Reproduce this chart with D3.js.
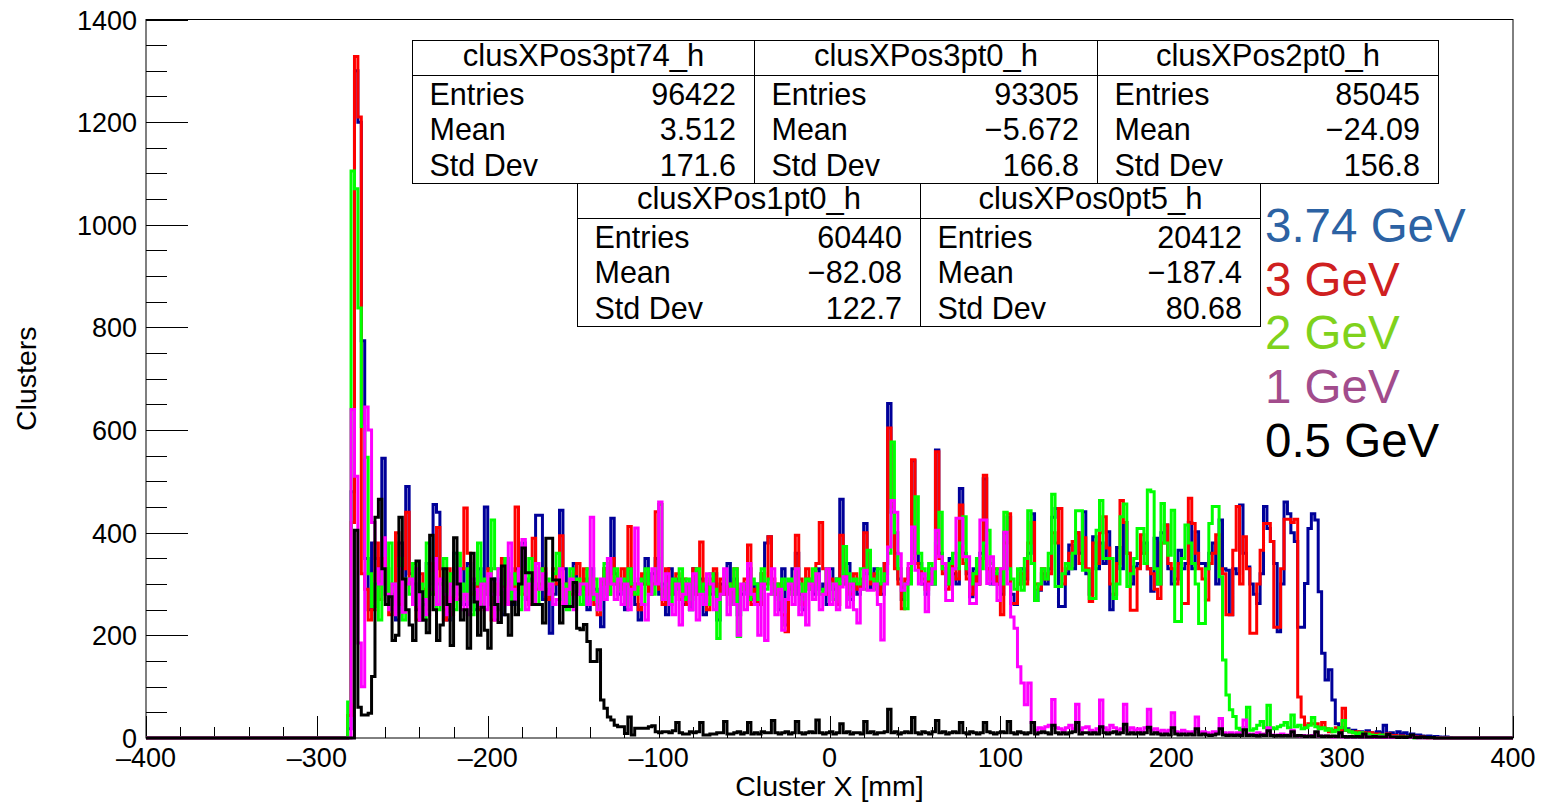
<!DOCTYPE html>
<html>
<head>
<meta charset="utf-8">
<script src="https://cdn.jsdelivr.net/npm/d3@7"></script>
<style>
  html, body { margin: 0; padding: 0; background: #fff; }
  svg { display: block; }
  text { font-family: "Liberation Sans", Arial, Helvetica, sans-serif; }
</style>
</head>
<body>
<svg id="chart" width="1544" height="802"></svg>
<script>
// Cluster X position histograms, 2 mm bins; first stored bin starts at -284 mm.
const binStart = -284;
const binWidth = 2;

// 3.74 GeV
const counts374 = [
  0, 18, 480, 1300, 1200, 774, 350, 250, 380, 350,
  300, 545, 330, 260, 280, 230, 380, 300, 490, 320,
  300, 250, 230, 260, 340, 300, 455, 440, 330, 250,
  230, 300, 360, 280, 330, 260, 340, 300, 250, 330,
  300, 450, 330, 260, 310, 280, 240, 350, 300, 260,
  330, 300, 380, 270, 310, 300, 434, 434, 270, 290,
  204, 280, 300, 444, 330, 260, 300, 340, 280, 300,
  310, 250, 330, 290, 260, 217, 330, 300, 428, 320,
  280, 300, 250, 330, 300, 260, 230, 300, 350, 280,
  320, 350, 280, 300, 240, 330, 280, 310, 300, 260,
  300, 250, 330, 280, 310, 240, 300, 280, 320, 230,
  300, 280, 340, 260, 310, 240, 280, 300, 330, 270,
  300, 260, 320, 380, 392, 300, 280, 250, 330, 220,
  290, 330, 360, 280, 250, 310, 300, 280, 330, 290,
  300, 260, 330, 290, 310, 465, 300, 340, 270, 300,
  280, 300, 418, 320, 290, 330, 300, 280, 340, 652,
  440, 360, 310, 270, 300, 330, 540, 360, 340, 300,
  280, 330, 300, 561, 360, 330, 300, 350, 320, 300,
  486, 360, 320, 275, 330, 300, 360, 505, 330, 300,
  320, 300, 280, 400, 430, 280, 260, 300, 330, 310,
  360, 437, 268, 288, 320, 300, 330, 430, 447, 256,
  256, 320, 376, 330, 400, 360, 441, 320, 280, 392,
  330, 380, 340, 402, 250, 280, 371, 330, 420, 360,
  300, 333, 340, 360, 380, 330, 286, 389, 300, 400,
  415, 330, 300, 310, 366, 330, 340, 420, 330, 402,
  340, 340, 330, 360, 380, 300, 425, 330, 327, 240,
  330, 320, 454, 360, 333, 300, 280, 262, 320, 451,
  408, 383, 340, 207, 300, 460, 437, 400, 383, 216,
  216, 301, 408, 437, 425, 285, 165, 113, 133, 74,
  28, 20, 15, 18, 12, 15, 10, 12, 10, 14,
  10, 8, 12, 10, 25, 8, 10, 6, 12, 8,
  10, 6, 8, 5, 6, 4, 3, 4, 2, 3,
  2, 1, 2, 1, 0, 0, 0, 0
];

// 3 GeV
const counts300 = [
  0, 44, 420, 1328, 1210, 320, 290, 230, 250, 380,
  270, 350, 330, 240, 300, 400, 260, 330, 440, 300,
  260, 230, 320, 290, 250, 340, 280, 410, 300, 230,
  330, 240, 300, 270, 330, 448, 360, 280, 300, 250,
  300, 280, 330, 230, 300, 280, 350, 260, 310, 290,
  450, 330, 280, 300, 260, 389, 290, 300, 330, 270,
  280, 330, 300, 394, 260, 300, 280, 320, 340, 290,
  330, 280, 310, 260, 240, 300, 330, 280, 350, 300,
  290, 330, 300, 412, 280, 300, 250, 320, 300, 280,
  300, 441, 290, 260, 330, 280, 300, 320, 270, 310,
  260, 300, 330, 280, 382, 290, 250, 310, 330, 280,
  310, 280, 300, 260, 330, 280, 290, 310, 376, 260,
  290, 260, 320, 300, 392, 310, 280, 300, 240, 207,
  300, 280, 395, 310, 260, 330, 290, 300, 340, 420,
  330, 280, 310, 300, 260, 395, 330, 300, 280, 320,
  290, 310, 400, 330, 300, 320, 280, 300, 340, 604,
  450, 330, 300, 252, 310, 330, 542, 340, 330, 310,
  290, 320, 310, 558, 350, 320, 290, 340, 330, 310,
  454, 340, 310, 280, 320, 300, 350, 512, 330, 310,
  330, 300, 240, 380, 437, 262, 262, 300, 320, 300,
  380, 420, 300, 290, 330, 310, 320, 400, 380, 447,
  300, 330, 360, 383, 400, 340, 390, 330, 266, 380,
  340, 400, 431, 370, 300, 280, 340, 463, 420, 360,
  249, 249, 330, 396, 360, 330, 320, 290, 272, 380,
  415, 340, 330, 300, 340, 262, 262, 467, 418, 360,
  330, 310, 269, 340, 360, 396, 330, 320, 240, 240,
  366, 451, 300, 392, 330, 204, 204, 300, 366, 418,
  418, 383, 216, 216, 330, 426, 426, 420, 426, 80,
  41, 24, 28, 28, 28, 20, 30, 18, 12, 15,
  20, 15, 58, 15, 12, 10, 12, 8, 10, 8,
  10, 6, 8, 5, 6, 8, 4, 5, 3, 4,
  3, 2, 4, 2, 1, 2, 1, 0, 1, 0,
  0, 0, 0, 0, 0, 0, 0, 0
];

// 2 GeV
const counts200 = [
  0, 70, 1105, 1070, 838, 607, 547, 320, 256, 300,
  230, 330, 280, 380, 260, 300, 350, 230, 310, 280,
  340, 260, 300, 230, 380, 280, 320, 250, 300, 350,
  280, 320, 250, 360, 300, 270, 330, 240, 300, 380,
  260, 310, 280, 425, 330, 250, 300, 350, 270, 320,
  300, 250, 330, 280, 350, 300, 260, 330, 290, 310,
  280, 320, 360, 270, 300, 250, 330, 290, 310, 260,
  300, 330, 270, 310, 250, 300, 340, 280, 300, 330,
  290, 310, 260, 330, 300, 280, 310, 260, 330, 300,
  280, 330, 455, 270, 300, 260, 310, 290, 330, 270,
  310, 270, 300, 330, 280, 300, 260, 320, 290, 194,
  280, 310, 300, 260, 330, 198, 290, 300, 270, 310,
  300, 270, 330, 290, 310, 280, 300, 270, 310, 290,
  310, 280, 330, 300, 270, 310, 290, 330, 300, 280,
  290, 330, 300, 270, 310, 300, 373, 320, 290, 310,
  300, 330, 290, 366, 310, 290, 330, 300, 320, 360,
  577, 400, 330, 300, 252, 300, 350, 470, 360, 330,
  310, 340, 300, 380, 440, 330, 300, 340, 360, 330,
  380, 431, 330, 300, 320, 350, 330, 380, 405, 340,
  320, 330, 300, 440, 330, 310, 290, 330, 288, 350,
  443, 340, 268, 300, 330, 310, 360, 475, 295, 295,
  320, 340, 330, 360, 443, 443, 327, 327, 272, 272,
  405, 463, 350, 350, 350, 272, 300, 431, 456, 295,
  320, 350, 408, 408, 340, 483, 480, 330, 300, 457,
  380, 356, 444, 227, 227, 350, 415, 380, 340, 300,
  223, 223, 330, 418, 451, 451, 314, 152, 84, 55,
  42, 19, 15, 20, 60, 15, 18, 25, 32, 20,
  64, 20, 18, 22, 25, 30, 20, 45, 22, 25,
  18, 20, 25, 40, 22, 18, 20, 15, 18, 12,
  15, 20, 34, 15, 12, 10, 8, 10, 6, 8,
  6, 5, 4, 6, 3, 4, 2, 3, 2, 2,
  1, 2, 1, 0, 1, 0, 0, 0, 0, 0,
  0, 0, 0, 0, 0, 0, 0, 0
];

// 1 GeV
const counts100 = [
  0, 0, 640, 510, 185, 100, 645, 600, 420, 330,
  300, 390, 280, 250, 300, 240, 330, 245, 300, 310,
  260, 330, 230, 270, 240, 290, 350, 260, 310, 280,
  240, 300, 270, 330, 250, 280, 240, 310, 290, 260,
  300, 250, 320, 280, 230, 330, 290, 260, 380, 290,
  270, 330, 387, 250, 300, 260, 340, 290, 320, 280,
  300, 260, 270, 330, 260, 290, 310, 250, 280, 300,
  300, 260, 430, 280, 250, 310, 270, 350, 300, 270,
  310, 260, 300, 250, 290, 409, 300, 260, 230, 280,
  330, 300, 460, 270, 320, 260, 240, 300, 220, 280,
  300, 250, 320, 230, 280, 260, 320, 300, 250, 270,
  280, 330, 240, 290, 260, 200, 300, 250, 340, 280,
  260, 200, 300, 190, 280, 330, 240, 290, 210, 270,
  300, 260, 330, 240, 280, 220, 300, 270, 320, 250,
  280, 330, 260, 300, 250, 294, 314, 255, 300, 250,
  224, 290, 327, 288, 288, 300, 260, 191, 300, 372,
  463, 440, 359, 288, 300, 340, 411, 327, 300, 320,
  246, 300, 330, 405, 353, 340, 268, 268, 330, 428,
  428, 353, 353, 262, 262, 300, 425, 425, 301, 353,
  300, 268, 330, 401, 300, 236, 214, 139, 107, 65,
  107, 30, 15, 20, 18, 22, 25, 75, 20, 18,
  15, 20, 25, 18, 66, 15, 20, 22, 15, 12,
  18, 74, 20, 15, 25, 20, 15, 18, 66, 15,
  20, 15, 18, 12, 20, 56, 15, 18, 12, 15,
  12, 15, 49, 12, 10, 15, 12, 10, 12, 41,
  10, 12, 10, 8, 12, 10, 38, 10, 8, 10,
  8, 10, 8, 35, 8, 6, 8, 10, 6, 8,
  20, 6, 5, 6, 8, 5, 6, 15, 5, 4,
  5, 4, 3, 5, 10, 4, 3, 4, 3, 2,
  3, 8, 2, 3, 2, 2, 3, 2, 6, 2,
  2, 1, 2, 2, 1, 4, 1, 2, 1, 1,
  1, 1, 3, 1, 0, 1, 0, 1, 0, 0,
  0, 0, 0, 0, 0, 0, 0, 0
];

// 0.5 GeV
const counts050 = [
  0, 0, 0, 405, 60, 45, 45, 48, 120, 430,
  465, 330, 260, 275, 190, 200, 430, 310, 250, 220,
  190, 345, 285, 230, 205, 395, 250, 190, 220, 330,
  260, 180, 390, 300, 230, 250, 175, 360, 265, 200,
  255, 210, 175, 310, 260, 225, 335, 240, 200, 265,
  240, 300, 370, 322, 322, 260, 260, 260, 224, 389,
  389, 308, 308, 224, 256, 256, 256, 303, 214, 211,
  221, 188, 149, 149, 172, 74, 58, 41, 35, 25,
  22, 22, 9, 41, 6, 19, 19, 19, 19, 22,
  24, 12, 10, 12, 12, 10, 14, 30, 10, 8,
  8, 12, 10, 12, 30, 6, 6, 8, 8, 10,
  10, 32, 8, 8, 10, 12, 8, 10, 30, 8,
  10, 8, 12, 10, 10, 34, 10, 8, 10, 12,
  8, 10, 32, 10, 8, 10, 12, 10, 35, 10,
  8, 10, 12, 8, 10, 28, 10, 12, 8, 10,
  10, 8, 32, 10, 12, 8, 10, 10, 12, 56,
  10, 12, 8, 10, 12, 10, 40, 10, 8, 12,
  10, 8, 12, 34, 10, 12, 8, 10, 12, 10,
  30, 10, 8, 12, 10, 8, 10, 30, 12, 10,
  8, 10, 12, 10, 32, 10, 8, 12, 10, 8,
  10, 30, 8, 10, 12, 10, 8, 25, 10, 8,
  10, 8, 10, 12, 30, 8, 10, 10, 8, 10,
  8, 22, 10, 8, 10, 12, 8, 10, 27, 8,
  10, 8, 10, 8, 10, 21, 8, 10, 8, 6,
  8, 6, 20, 8, 6, 8, 6, 8, 6, 18,
  6, 8, 6, 5, 6, 8, 18, 6, 5, 6,
  5, 6, 5, 16, 5, 6, 5, 4, 6, 5,
  14, 5, 4, 5, 4, 5, 4, 12, 4, 5,
  4, 3, 4, 3, 12, 4, 3, 4, 3, 4,
  3, 10, 3, 2, 3, 2, 3, 2, 8, 2,
  2, 3, 2, 2, 2, 7, 2, 2, 1, 2,
  1, 2, 6, 1, 1, 2, 1, 1, 1, 0,
  0, 0, 0, 0, 0, 0, 0, 0
];

// Legend labels, drawn in this order top to bottom
const legendLabels = ["3.74 GeV", "3 GeV", "2 GeV", "1 GeV", "0.5 GeV"];

// Statistics boxes
const statNames = ["clusXPos3pt74_h", "clusXPos3pt0_h", "clusXPos2pt0_h", "clusXPos1pt0_h", "clusXPos0pt5_h"];
const statEntries = ["96422", "93305", "85045", "60440", "20412"];
const statMeans = ["3.512", "\u22125.672", "\u221224.09", "\u221282.08", "\u2212187.4"];
const statStdDevs = ["171.6", "166.8", "156.8", "122.7", "80.68"];

// Axes
const xTicks = [-400, -300, -200, -100, 0, 100, 200, 300, 400];
const yTicks = [0, 200, 400, 600, 800, 1000, 1200, 1400];
const xTitle = "Cluster X [mm]";
const yTitle = "Clusters";

// ---- styling / layout ----
const lineColors = ["#000099", "#ff0000", "#00ff00", "#ff00ff", "#000000"];
const legendColors = ["#2c62a3", "#cf2020", "#7fd21c", "#a24c8c", "#000000"];
const frame = { left: 146, right: 1513, top: 19.5, bottom: 738 };

const svg = d3.select("#chart");
const x = d3.scaleLinear().domain([-400, 400]).range([frame.left, frame.right]);
const y = d3.scaleLinear().domain([0, 1400]).range([frame.bottom, frame.top]);

// Expand a stored count list to the full -400..400 binning
function fullBins(counts) {
  const nBins = Math.round(800 / binWidth);
  const out = new Array(nBins).fill(0);
  const offset = Math.round((binStart + 400) / binWidth);
  counts.forEach((c, i) => { out[offset + i] = c; });
  return out;
}
function stepPoints(bins) {
  const pts = [];
  bins.forEach((c, i) => {
    const x0 = -400 + i * binWidth;
    pts.push([x0, c], [x0 + binWidth, c]);
  });
  return pts;
}

// Frame
svg.append("rect")
  .attr("x", frame.left).attr("y", frame.top)
  .attr("width", frame.right - frame.left).attr("height", frame.bottom - frame.top)
  .attr("fill", "none").attr("stroke", "#000").attr("stroke-width", 1);

// Y axis ticks (inside, pointing right)
const gy = svg.append("g");
d3.range(0, 1401, 50).forEach(v => {
  const major = v % 200 === 0;
  gy.append("line")
    .attr("x1", frame.left).attr("x2", frame.left + (major ? 42 : 21))
    .attr("y1", Math.round(y(v)) + 0.5).attr("y2", Math.round(y(v)) + 0.5)
    .attr("stroke", "#000").attr("stroke-width", 1);
});
gy.selectAll("text.yl").data(yTicks).join("text")
  .attr("class", "yl")
  .attr("x", 137).attr("y", d => y(d) + 10)
  .attr("text-anchor", "end").attr("font-size", 27)
  .text(d => d);

// X axis ticks (inside, pointing up)
const gx = svg.append("g");
d3.range(-400, 401, 20).forEach(v => {
  const major = v % 100 === 0;
  gx.append("line")
    .attr("x1", Math.round(x(v)) + 0.5).attr("x2", Math.round(x(v)) + 0.5)
    .attr("y1", frame.bottom).attr("y2", frame.bottom - (major ? 22 : 11))
    .attr("stroke", "#000").attr("stroke-width", 1);
});
gx.selectAll("text.xl").data(xTicks).join("text")
  .attr("class", "xl")
  .attr("x", d => x(d)).attr("y", 767)
  .attr("text-anchor", "middle").attr("font-size", 27)
  .text(d => d < 0 ? "\u2013" + Math.abs(d) : d);

// Axis titles
svg.append("text")
  .attr("x", (frame.left + frame.right) / 2).attr("y", 796)
  .attr("text-anchor", "middle").attr("font-size", 28.5)
  .text(xTitle);
svg.append("text")
  .attr("transform", `translate(36, ${(frame.top + frame.bottom) / 2}) rotate(-90)`)
  .attr("text-anchor", "middle").attr("font-size", 28.5)
  .text(yTitle);

// Histograms, drawn highest energy first
const line = d3.line().x(d => x(d[0])).y(d => y(d[1]));
const allCounts = [counts374, counts300, counts200, counts100, counts050];
svg.append("g").selectAll("path").data(allCounts).join("path")
  .attr("d", d => line(stepPoints(fullBins(d))))
  .attr("fill", "none")
  .attr("stroke", (d, i) => lineColors[i])
  .attr("stroke-width", 3)
  .attr("stroke-linejoin", "miter")
  .attr("stroke-linecap", "butt");

// Statistics boxes
const boxes = [
  { l: 412.5, r: 754.5, t: 40.5, b: 183.5 },
  { l: 754.5, r: 1097.5, t: 40.5, b: 183.5 },
  { l: 1097.5, r: 1438.5, t: 40.5, b: 183.5 },
  { l: 577.5, r: 920.5, t: 183.5, b: 326.5 },
  { l: 920.5, r: 1260.5, t: 183.5, b: 326.5 }
];
boxes.forEach((bx, i) => {
  const g = svg.append("g");
  g.append("rect")
    .attr("x", bx.l).attr("y", bx.t).attr("width", bx.r - bx.l).attr("height", bx.b - bx.t)
    .attr("fill", "#fff").attr("stroke", "#000").attr("stroke-width", 1);
  g.append("line")
    .attr("x1", bx.l).attr("x2", bx.r).attr("y1", bx.t + 35).attr("y2", bx.t + 35)
    .attr("stroke", "#000").attr("stroke-width", 1);
  g.append("text")
    .attr("x", (bx.l + bx.r) / 2).attr("y", bx.t + 25.5)
    .attr("text-anchor", "middle").attr("font-size", 31)
    .text(statNames[i]);
  const rows = [["Entries", statEntries[i]], ["Mean", statMeans[i]], ["Std Dev", statStdDevs[i]]];
  rows.forEach((row, k) => {
    const by = bx.t + 64 + k * 35.8;
    g.append("text").attr("x", bx.l + 17).attr("y", by)
      .attr("font-size", 30.5).text(row[0]);
    g.append("text").attr("x", bx.r - 18.5).attr("y", by)
      .attr("text-anchor", "end").attr("font-size", 30.5).text(row[1]);
  });
});

// Legend text
svg.append("g").selectAll("text").data(legendLabels).join("text")
  .attr("x", 1265)
  .attr("y", (d, i) => 242 + i * 53.7)
  .attr("font-size", 47.5)
  .attr("fill", (d, i) => legendColors[i])
  .text(d => d);
</script>
</body>
</html>
